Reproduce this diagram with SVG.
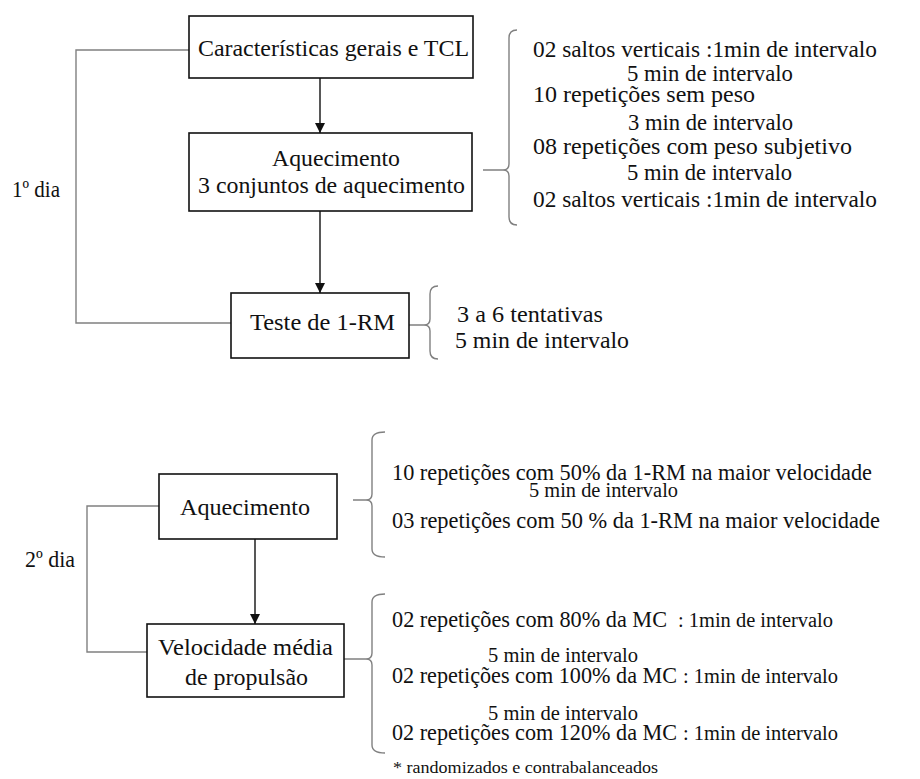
<svg xmlns="http://www.w3.org/2000/svg" width="920" height="779" viewBox="0 0 920 779">
<defs>
<style>
.b{font-size:24px;}
.r{font-size:23px;}
.s{font-size:20px;}
.f{font-size:16px;}
.box{fill:#fff;stroke:#111;stroke-width:1.6;}
.grp{fill:none;stroke:#808080;stroke-width:1.4;}
.arr{fill:none;stroke:#111;stroke-width:1.4;}
</style>
<marker id="ah" viewBox="0 0 10 10" refX="10" refY="5" markerWidth="10" markerHeight="10" markerUnits="userSpaceOnUse" orient="auto">
<path d="M0,0 L10,5 L0,10 Z" fill="#111"/>
</marker>
</defs>
<rect width="920" height="779" fill="#fff"/>

<g id="connectors">
<path class="arr" d="M320,78 V133" marker-end="url(#ah)"/>
<path class="arr" d="M320,211 V293" marker-end="url(#ah)"/>
<path class="arr" d="M255,539 V624" marker-end="url(#ah)"/>
<path class="grp" d="M189,50 H76 V323 H231"/>
<path class="grp" d="M159,506 H87 V652 H147"/>
<path class="grp" d="M517,30 Q509,30 509,38 V164 Q509,170 503,170 H483 M503,170 Q509,170 509,176 V217 Q509,225 517,225"/>
<path class="grp" d="M438,286 Q430,286 430,294 V319 Q430,325 424,325 H409 M424,325 Q430,325 430,331 V351 Q430,359 438,359"/>
<path class="grp" d="M385,432 Q372,432 372,440 V494 Q372,500 366,500 H353 M366,500 Q372,500 372,506 V549 Q372,557 385,557"/>
<path class="grp" d="M385,594 Q372,594 372,602 V653 Q372,659 366,659 H344 M366,659 Q372,659 372,665 V745 Q372,753 385,753"/>
</g>

<g font-family="'Liberation Serif', 'DejaVu Serif', serif" fill="#111">

<g id="n-caracteristicas">
<rect class="box" x="189" y="16" width="284" height="62"/>
<text class="b" x="198" y="56" textLength="271" lengthAdjust="spacingAndGlyphs">Características gerais e TCL</text>
</g>

<g id="n-aquecimento1">
<rect class="box" x="189" y="133" width="283" height="78"/>
<text class="b" x="272" y="166" textLength="128" lengthAdjust="spacingAndGlyphs">Aquecimento</text>
<text class="b" x="198" y="193" textLength="267" lengthAdjust="spacingAndGlyphs">3 conjuntos de aquecimento</text>
</g>

<g id="n-teste">
<rect class="box" x="231" y="293" width="178" height="65"/>
<text class="b" x="250" y="330" textLength="145" lengthAdjust="spacingAndGlyphs">Teste de 1-RM</text>
</g>

<g id="n-aquecimento2">
<rect class="box" x="159" y="474" width="178" height="65"/>
<text class="b" x="180" y="515" textLength="130" lengthAdjust="spacingAndGlyphs">Aquecimento</text>
</g>

<g id="n-velocidade">
<rect class="box" x="147" y="624" width="197" height="73"/>
<text class="b" x="158" y="655" textLength="175" lengthAdjust="spacingAndGlyphs">Velocidade média</text>
<text class="b" x="185" y="685" textLength="123" lengthAdjust="spacingAndGlyphs">de propulsão</text>
</g>

<g id="labels-dia">
<text class="r" x="12" y="197" textLength="48" lengthAdjust="spacingAndGlyphs">1º dia</text>
<text class="r" x="25" y="567" textLength="50" lengthAdjust="spacingAndGlyphs">2º dia</text>
</g>

<g id="detail-aquecimento1">
<text class="r" x="533" y="57" textLength="344" lengthAdjust="spacingAndGlyphs">02 saltos verticais :1min de intervalo</text>
<text class="r" x="627" y="81" textLength="166" lengthAdjust="spacingAndGlyphs">5 min de intervalo</text>
<text class="r" x="533" y="102" textLength="222" lengthAdjust="spacingAndGlyphs">10 repetições sem peso</text>
<text class="r" x="628" y="130" textLength="165" lengthAdjust="spacingAndGlyphs">3 min de intervalo</text>
<text class="r" x="533" y="154" textLength="319" lengthAdjust="spacingAndGlyphs">08 repetições com peso subjetivo</text>
<text class="r" x="627" y="180" textLength="165" lengthAdjust="spacingAndGlyphs">5 min de intervalo</text>
<text class="r" x="533" y="207" textLength="344" lengthAdjust="spacingAndGlyphs">02 saltos verticais :1min de intervalo</text>
</g>

<g id="detail-teste">
<text class="b" x="457" y="322" textLength="146" lengthAdjust="spacingAndGlyphs">3 a 6 tentativas</text>
<text class="b" x="455" y="348" textLength="174" lengthAdjust="spacingAndGlyphs">5 min de intervalo</text>
</g>

<g id="detail-aquecimento2">
<text class="r" x="392" y="480" textLength="480" lengthAdjust="spacingAndGlyphs">10 repetições com 50% da 1-RM na maior velocidade</text>
<text class="s" x="529" y="497" textLength="149" lengthAdjust="spacingAndGlyphs">5 min de intervalo</text>
<text class="r" x="392" y="528" textLength="488" lengthAdjust="spacingAndGlyphs">03 repetições com 50 % da 1-RM na maior velocidade</text>
</g>

<g id="detail-velocidade">
<text class="r" x="392" y="627" textLength="275" lengthAdjust="spacingAndGlyphs">02 repetições com 80% da MC</text>
<text class="s" x="678" y="627" textLength="155" lengthAdjust="spacingAndGlyphs">: 1min de intervalo</text>
<text class="s" x="488" y="662" textLength="150" lengthAdjust="spacingAndGlyphs">5 min de intervalo</text>
<text class="r" x="392" y="683" textLength="285" lengthAdjust="spacingAndGlyphs">02 repetições com 100% da MC</text>
<text class="s" x="683" y="683" textLength="155" lengthAdjust="spacingAndGlyphs">: 1min de intervalo</text>
<text class="s" x="488" y="720" textLength="150" lengthAdjust="spacingAndGlyphs">5 min de intervalo</text>
<text class="r" x="392" y="740" textLength="285" lengthAdjust="spacingAndGlyphs">02 repetições com 120% da MC</text>
<text class="s" x="683" y="740" textLength="155" lengthAdjust="spacingAndGlyphs">: 1min de intervalo</text>
<text class="f" x="393" y="773" textLength="265" lengthAdjust="spacingAndGlyphs">* randomizados e contrabalanceados</text>
</g>
</g>
</svg>
